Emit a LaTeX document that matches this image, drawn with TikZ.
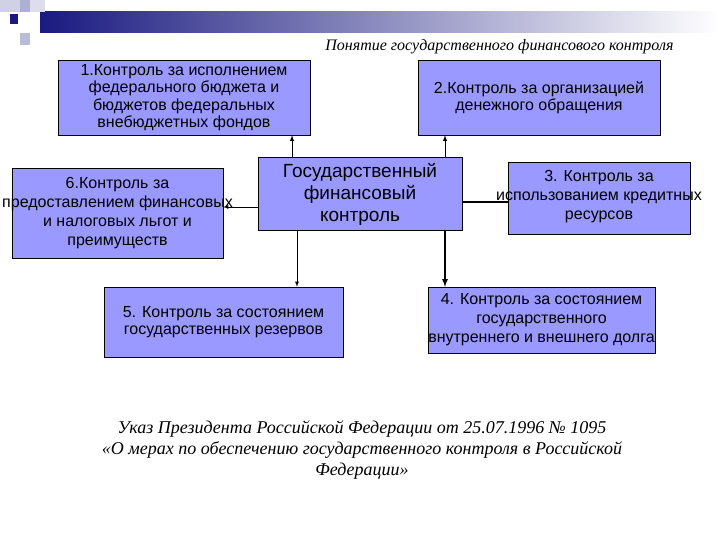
\documentclass[tikz,border=0pt]{standalone}
\usepackage{fontspec}
\setmainfont{Liberation Sans}
\newfontfamily\serifit{Liberation Serif}
\begin{document}
\begin{tikzpicture}[x=1pt,y=-1pt,
  bx/.style={draw=black,fill=boxc,inner sep=0pt,font=\fontsize{16}{17.5}\selectfont,align=center},
  tx/.style={font=\fontsize{16}{19}\selectfont,align=center,inner sep=0pt},
  arr/.style={-latex,line width=1pt}]
\definecolor{boxc}{HTML}{9999FF}
\definecolor{navy}{HTML}{1A1A80}
\useasboundingbox (0,0) rectangle (720,540);
% decoration
\shade[left color=navy,right color=white] (40,12) rectangle (720,33);
\fill[navy!20] (0,0) rectangle (20,12);
\fill[navy!35] (20,0) rectangle (40,12);
\fill[navy] (10,14) rectangle (18,24);
\fill[navy!30] (20,33) rectangle (30,45);
\fill[navy!15] (30,0) rectangle (45,12);
\node[font=\serifit\itshape\fontsize{16}{18}\selectfont,anchor=east] (title) at (677,47) {Понятие государственного финансового контроля};
% boxes
\node[bx,minimum width=252,minimum height=75] (b1) at (184,97.5) {1.Контроль за исполнением\\федерального бюджета и\\бюджетов федеральных\\внебюджетных фондов};
\node[bx,minimum width=242,minimum height=75] (b2) at (539,97.5) {2.Контроль за организацией\\денежного обращения};
\node[bx,minimum width=204,minimum height=73] (c) at (360,193.5) {};
\node[tx,font=\fontsize{19}{22}\selectfont,anchor=north] (tc) at (360,163) {Государственный\\финансовый\\контроль};
\node[bx,minimum width=211,minimum height=90] (b6) at (117.5,213) {};
\node[tx] (t6) at (117.5,213) {6.Контроль за\\предоставлением финансовых\\и налоговых льгот и\\преимуществ};
\node[bx,minimum width=182,minimum height=72] (b3) at (599,198) {};
\node[tx] (t3) at (599,197) {3. Контроль за\\использованием кредитных\\ресурсов};
\node[bx,minimum width=239,minimum height=70] (b5) at (223.5,322) {5. Контроль за состоянием\\государственных резервов};
\node[bx,minimum width=227,minimum height=66] (b4) at (541.5,320) {};
\node[tx] (t4) at (541.5,320) {4. Контроль за состоянием\\государственного\\внутреннего и внешнего долга};
% connectors
\draw[arr] (c.north -| 292,0) -- (b1.south -| 292,0);
\draw[arr] (c.north -| 445,0) -- (b2.south -| 445,0);
\draw[arr,line width=0.8pt] (c.west |- 0,207) -- (b6.east |- 0,207);
\draw[line width=1.5pt] (c.east |- 0,202) -- (b3.west |- 0,202);
\draw[arr,line width=0.8pt] (c.south -| 297,0) -- (b5.north -| 297,0);
\draw[arr,line width=1.6pt] (c.south -| 445,0) -- (b4.north -| 445,0);
\node[font=\serifit\itshape\fontsize{18}{21}\selectfont,align=center] (ukaz) at (362,450) {Указ Президента Российской Федерации от 25.07.1996 № 1095\\«О мерах по обеспечению государственного контроля в Российской\\Федерации»};
\end{tikzpicture}
\end{document}
